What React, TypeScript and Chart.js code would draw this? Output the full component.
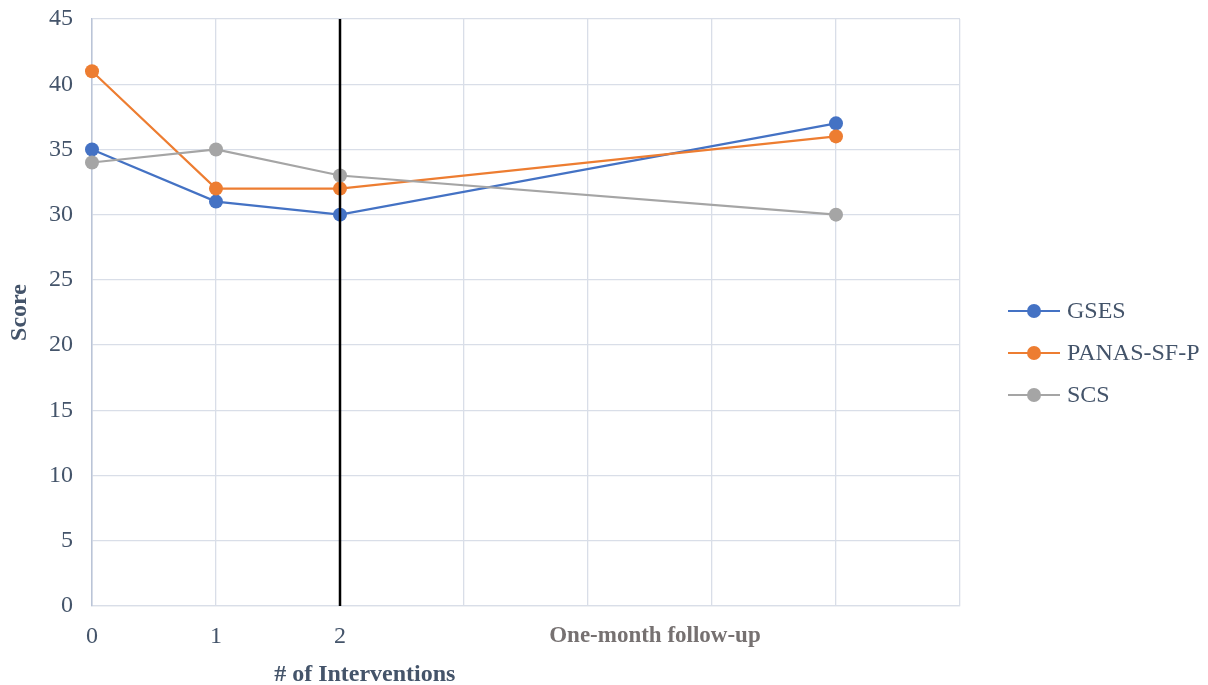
import React, { useEffect, useRef } from "react";
import { Chart, registerables } from "chart.js";

Chart.register(...registerables);

// Measurement points: sessions 0, 1, 2 and the one-month follow-up (plotted at 6)
const xPositions = [0, 1, 2, 6];
const gsesScores = [35, 31, 30, 37];
const panasScores = [41, 32, 32, 36];
const scsScores = [34, 35, 33, 30];
const seriesNames = ["GSES", "PANAS-SF-P", "SCS"];
const seriesColors = ["#4472C4", "#ED7D31", "#A5A5A5"];

// Axis setup
const xGridTicks = [0, 1, 2, 3, 4, 5, 6, 7];
const followUpTick = 4.54;
const followUpLabel = "One-month follow-up";
const numberedTicks = [0, 1, 2];
const interventionBoundary = 2;
const yMin = 0;
const yMax = 45;
const yStep = 5;

const FONT = "'Liberation Serif', 'Times New Roman', serif";
const TEXT_COLOR = "#44546A";
const GRID_COLOR = "#D9DEE8";
const FONT_SIZE = 24;

const toPoints = (ys: number[]) => ys.map((y, i) => ({ x: xPositions[i], y }));

// Legend with a short line and a dot, drawn at the right of the plot
const legendPlugin = {
  id: "lineDotLegend",
  afterDraw(chart: any) {
    const { ctx, chartArea } = chart;
    const x0 = chartArea.right + 48;
    const lineLen = 52;
    const yStart = chartArea.top + 292;
    const gap = 42;
    ctx.save();
    seriesNames.forEach((name, i) => {
      const y = yStart + i * gap;
      ctx.strokeStyle = seriesColors[i];
      ctx.lineWidth = 2.2;
      ctx.beginPath();
      ctx.moveTo(x0, y);
      ctx.lineTo(x0 + lineLen, y);
      ctx.stroke();
      ctx.fillStyle = seriesColors[i];
      ctx.beginPath();
      ctx.arc(x0 + lineLen / 2, y, 7, 0, Math.PI * 2);
      ctx.fill();
      ctx.fillStyle = TEXT_COLOR;
      ctx.font = `${FONT_SIZE}px ${FONT}`;
      ctx.textAlign = "left";
      ctx.textBaseline = "middle";
      ctx.fillText(name, x0 + lineLen + 7, y + 1);
    });
    ctx.restore();
  },
};

// X axis title, set under the intervention ticks
const xTitlePlugin = {
  id: "xTitle",
  afterDraw(chart: any) {
    const { ctx } = chart;
    const xScale = chart.scales.x;
    ctx.save();
    ctx.fillStyle = TEXT_COLOR;
    ctx.font = `bold ${FONT_SIZE}px ${FONT}`;
    ctx.textAlign = "center";
    ctx.textBaseline = "middle";
    ctx.fillText("# of Interventions", xScale.getPixelForValue(2.2), chart.height - 10);
    ctx.restore();
  },
};

export default function App() {
  const canvasRef = useRef<HTMLCanvasElement | null>(null);

  useEffect(() => {
    if (!canvasRef.current) return;
    const chart = new Chart(canvasRef.current, {
      type: "line",
      data: {
        datasets: [
          {
            label: "intervention boundary",
            data: [
              { x: interventionBoundary, y: yMin },
              { x: interventionBoundary, y: yMax },
            ],
            borderColor: "#000000",
            borderWidth: 2.5,
            pointRadius: 0,
            order: 0,
          },
          ...[gsesScores, panasScores, scsScores].map((vals, i) => ({
            label: seriesNames[i],
            data: toPoints(vals),
            borderColor: seriesColors[i],
            backgroundColor: seriesColors[i],
            borderWidth: 2.2,
            pointRadius: 7,
            pointBorderWidth: 0,
            pointHoverRadius: 7,
            tension: 0,
            clip: false,
            order: 3 - i,
          })),
        ],
      },
      options: {
        animation: false,
        responsive: false,
        events: [],
        layout: { padding: { left: 0, right: 248, top: 19, bottom: 0 } },
        plugins: {
          legend: { display: false },
          tooltip: { enabled: false },
        },
        scales: {
          x: {
            type: "linear",
            min: 0,
            max: 7,
            afterBuildTicks: (scale: any) => {
              scale.ticks = [...xGridTicks, followUpTick]
                .sort((a, b) => a - b)
                .map((v) => ({ value: v }));
            },
            afterFit: (scale: any) => {
              scale.height = 79;
              scale.paddingLeft = 0;
              scale.paddingRight = 0;
            },
            grid: {
              color: (c: any) => (c.tick && c.tick.value === followUpTick ? "rgba(0,0,0,0)" : GRID_COLOR),
              lineWidth: 1.3,
              drawTicks: false,
            },
            border: { color: GRID_COLOR, width: 1.3 },
            ticks: {
              autoSkip: false,
              maxRotation: 0,
              minRotation: 0,
              padding: 16,
              color: (c: any) => (c.tick && c.tick.value === followUpTick ? "#767171" : TEXT_COLOR),
              font: (c: any) =>
                c.tick && c.tick.value === followUpTick
                  ? { family: FONT, size: 23, weight: "bold" }
                  : { family: FONT, size: FONT_SIZE },
              callback: (v: any) => {
                if (v === followUpTick) return followUpLabel;
                return numberedTicks.includes(v) ? String(v) : "";
              },
            },
          },
          y: {
            min: yMin,
            max: yMax,
            afterFit: (scale: any) => {
              scale.width = 92;
              scale.paddingTop = 0;
              scale.paddingBottom = 0;
            },
            grid: { color: GRID_COLOR, lineWidth: 1.3, drawTicks: false },
            border: { color: "#BAC4D7", width: 1.5 },
            ticks: {
              stepSize: yStep,
              padding: 19,
              color: TEXT_COLOR,
              font: { family: FONT, size: FONT_SIZE },
            },
            title: {
              display: true,
              text: "Score",
              color: TEXT_COLOR,
              font: { family: FONT, size: FONT_SIZE, weight: "bold" },
              padding: { top: 5, bottom: 0 },
            },
          },
        },
      },
      plugins: [legendPlugin, xTitlePlugin],
    });
    return () => chart.destroy();
  }, []);

  return (
    <div style={{ position: "absolute", left: 0, top: 0, width: 1208, height: 685, background: "#ffffff" }}>
      <canvas ref={canvasRef} width={1208} height={685} style={{ width: 1208, height: 685 }} />
    </div>
  );
}
